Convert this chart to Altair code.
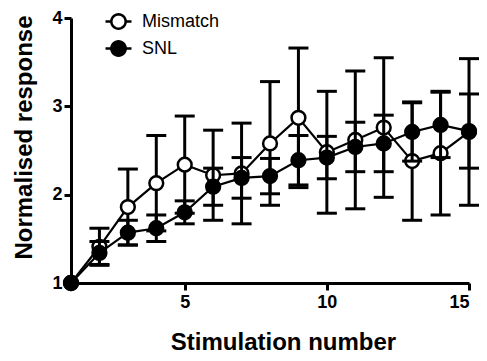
import math
import altair as alt
import pandas as pd

stim = list(range(1, 16))
series_names = ["Mismatch", "SNL"]
mismatch_mean = [1.00, 1.41, 1.86, 2.13, 2.34, 2.22, 2.24, 2.58, 2.87, 2.48, 2.62, 2.76, 2.38, 2.47, 2.71]
mismatch_err = [0.00, 0.21, 0.43, 0.54, 0.55, 0.51, 0.57, 0.70, 0.79, 0.69, 0.78, 0.79, 0.67, 0.70, 0.83]
snl_mean = [1.00, 1.34, 1.57, 1.62, 1.80, 2.09, 2.19, 2.21, 2.39, 2.42, 2.54, 2.58, 2.71, 2.79, 2.72]
snl_err = [0.00, 0.13, 0.14, 0.15, 0.13, 0.21, 0.23, 0.20, 0.28, 0.24, 0.28, 0.32, 0.33, 0.37, 0.42]
x_ticks = [5, 10, 15]
y_ticks = [1, 2, 3, 4]

rows = []
for name, means, errs in [("Mismatch", mismatch_mean, mismatch_err), ("SNL", snl_mean, snl_err)]:
    for x, m, e in zip(stim, means, errs):
        rows.append({"x": x, "series": name, "mean": m, "lo": m - e, "hi": m + e, "err": e})
df = pd.DataFrame(rows)

FONT = "Liberation Sans"
xs = alt.Scale(domain=[1, 15], nice=False, zero=False)
ys = alt.Scale(domain=[1, 4], nice=False, zero=False)

x_axis = alt.Axis(values=x_ticks, title="Stimulation number", grid=False,
                  titleX=212, titleY=66, titleBaseline="alphabetic", titleAlign="center")
y_axis = alt.Axis(values=y_ticks, title="Normalised response", grid=False,
                  titleX=-40, titleY=119, titleBaseline="alphabetic", titleAlign="center", titleAngle=270)

# legend glyph: line stubs either side of a circle, drawn as one continuous outline
r = 0.55
L = 1.0
pts_path = [(-L, 0.0), (-r, 0.0)]
n = 16
for k in range(1, n + 1):
    a = math.pi - math.pi * k / n
    pts_path.append((r * math.cos(a), -r * math.sin(a)))
pts_path += [(L, 0.0), (r, 0.0)]
for k in range(1, n + 1):
    a = -math.pi * k / n
    pts_path.append((r * math.cos(a), -r * math.sin(a)))
pts_path.append((-L, 0.0))
legend_symbol = " ".join(("M" if i == 0 else "L") + f"{px:.3f},{py:.3f}" for i, (px, py) in enumerate(pts_path)) + " Z"

fill_enc = alt.Fill("series:N",
                    scale=alt.Scale(domain=series_names, range=["white", "black"]),
                    legend=alt.Legend(title=None, orient="none", legendX=33, legendY=-11,
                                      symbolType=legend_symbol, symbolSize=676,
                                      symbolStrokeColor="black", symbolStrokeWidth=2.5,
                                      symbolOpacity=1,
                                      labelFont=FONT, labelFontSize=18, labelColor="black",
                                      labelOffset=9, rowPadding=0, padding=0))

X = alt.X("x:Q", scale=xs, axis=x_axis)
base = alt.Chart(df)
layers = []
for name in series_names:
    b = base.transform_filter(alt.datum.series == name)
    line = b.mark_line(color="black", strokeWidth=2.2).encode(
        x=X, y=alt.Y("mean:Q", scale=ys, axis=y_axis))
    eb = b.transform_filter(alt.datum.err > 0)
    rule = eb.mark_rule(color="black", strokeWidth=3).encode(
        x=X, y=alt.Y("lo:Q", scale=ys, axis=y_axis), y2="hi:Q")
    cap_hi = eb.mark_tick(color="black", orient="horizontal", size=20, thickness=3, opacity=1).encode(
        x=X, y=alt.Y("hi:Q", scale=ys, axis=y_axis))
    cap_lo = eb.mark_tick(color="black", orient="horizontal", size=20, thickness=3, opacity=1).encode(
        x=X, y=alt.Y("lo:Q", scale=ys, axis=y_axis))
    pts = b.mark_point(shape="circle", filled=True, size=190, stroke="black",
                       strokeWidth=2.5, opacity=1).encode(
        x=X, y=alt.Y("mean:Q", scale=ys, axis=y_axis), fill=fill_enc)
    layers += [line, rule, cap_hi, cap_lo, pts]

chart = alt.layer(*layers).properties(
    width=398, height=265, autosize="none",
    padding={"left": 63, "top": 10, "right": 10, "bottom": 70},
).configure_view(stroke=None).configure_axis(
    domainColor="black", domainWidth=3, tickColor="black", tickWidth=3, tickSize=7,
    labelFont=FONT, labelFontSize=18, labelFontWeight="bold", labelColor="black",
    titleFont=FONT, titleFontSize=24, titleFontWeight="bold", titleColor="black",
).configure_axisX(labelPadding=3).configure_axisY(labelPadding=2)

chart.save("out.html", embed_options={"renderer": "svg", "actions": False})
